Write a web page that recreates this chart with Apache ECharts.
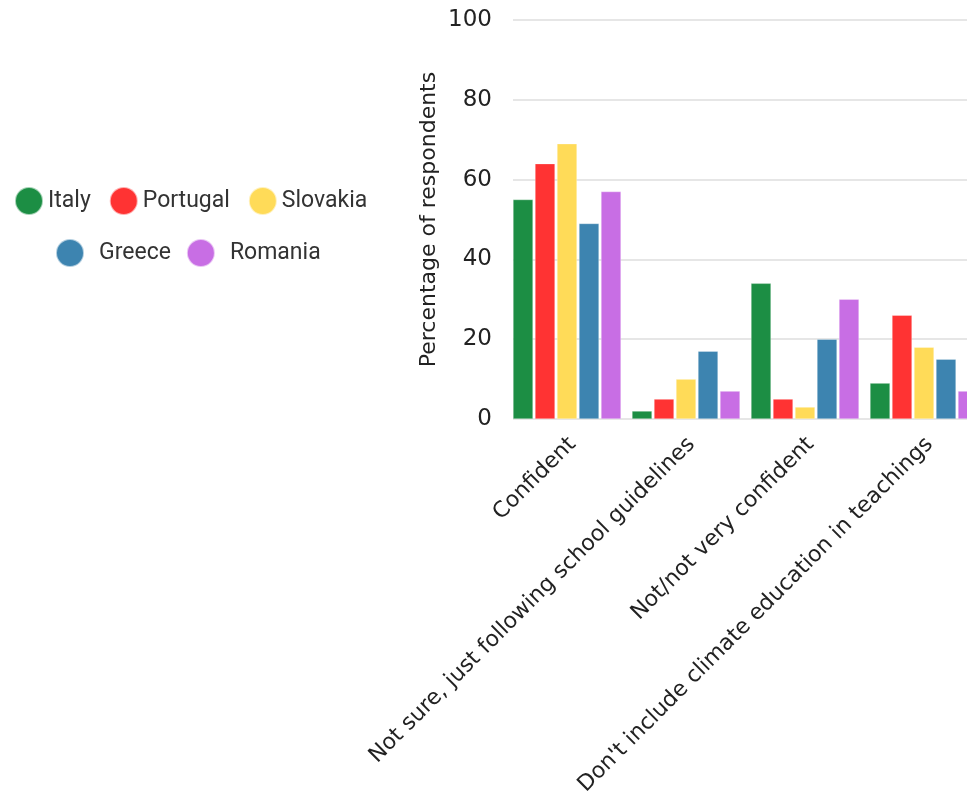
<!DOCTYPE html>
<html>
<head>
<meta charset="utf-8">
<script src="https://cdn.jsdelivr.net/npm/echarts@6/dist/echarts.min.js"></script>
<style>
  html, body { margin: 0; padding: 0; background: #fff; }
  #chart { width: 967px; height: 798px; }
</style>
</head>
<body>
<div id="chart"></div>
<script>
// Survey responses: teachers' confidence in teaching climate education
const categories = [
  'Confident',
  'Not sure, just following school guidelines',
  'Not/not very confident',
  "Don't include climate education in teachings"
];
const countries = ['Italy', 'Portugal', 'Slovakia', 'Greece', 'Romania'];
const italy    = [55, 2, 34, 9];
const portugal = [64, 5, 5, 26];
const slovakia = [69, 10, 3, 18];
const greece   = [49, 17, 20, 15];
const romania  = [57, 7, 30, 7];
const yTicks = [0, 20, 40, 60, 80, 100];

const colors = ['#1c8e44', '#ff3333', '#ffdb58', '#3d84b0', '#c86ee4'];
const seriesValues = [italy, portugal, slovakia, greece, romania];

const chart = echarts.init(document.getElementById('chart'), null, { renderer: 'canvas' });

const axisFont = 'DejaVu Sans';
const legendFont = 'Roboto';

const barSeries = countries.map((name, i) => ({
  name: name,
  type: 'bar',
  barWidth: 20,
  barGap: '10%',
  data: seriesValues[i],
  itemStyle: { color: colors[i], borderColor: 'rgba(255,255,255,0.6)', borderWidth: 0.5 }
}));
// empty trailing slot keeps each group flush with the left of its band
barSeries.push({
  name: 'gap',
  type: 'bar',
  barWidth: 9,
  barGap: '10%',
  data: categories.map(() => null),
  silent: true
});

const legendText = { fontFamily: legendFont, fontSize: 23, color: '#333' };

const option = {
  animation: false,
  backgroundColor: '#ffffff',
  color: colors,
  legend: [
    {
      data: countries.slice(0, 3),
      left: 14,
      top: 186,
      padding: 0,
      orient: 'horizontal',
      icon: 'circle',
      itemWidth: 28,
      itemHeight: 28,
      itemGap: 18,
      textStyle: legendText
    },
    {
      data: countries.slice(3),
      left: 55,
      top: 238,
      padding: 0,
      orient: 'horizontal',
      icon: 'circle',
      itemWidth: 28,
      itemHeight: 28,
      itemGap: 15,
      textStyle: Object.assign({ padding: [0, 0, 0, 10] }, legendText)
    }
  ],
  grid: {
    left: 513,
    width: 476,
    top: 20,
    bottom: 379,
    containLabel: false,
    outerBoundsMode: 'none'
  },
  xAxis: {
    type: 'category',
    data: categories,
    axisLine: { show: false },
    axisTick: { show: false },
    splitLine: { show: false },
    axisLabel: {
      rotate: 45,
      interval: 0,
      margin: 22,
      fontFamily: axisFont,
      fontSize: 22,
      color: '#222'
    }
  },
  yAxis: {
    type: 'value',
    min: yTicks[0],
    max: yTicks[yTicks.length - 1],
    interval: 20,
    name: 'Percentage of respondents',
    nameLocation: 'middle',
    nameGap: 73,
    nameTextStyle: { fontFamily: axisFont, fontSize: 22, color: '#222' },
    axisLine: { show: false },
    axisTick: { show: false },
    axisLabel: { margin: 21, fontFamily: axisFont, fontSize: 23, color: '#222' },
    splitLine: { show: true, lineStyle: { color: '#e6e6e6', width: 2 } }
  },
  series: barSeries
};

chart.setOption(option);
</script>
</body>
</html>
